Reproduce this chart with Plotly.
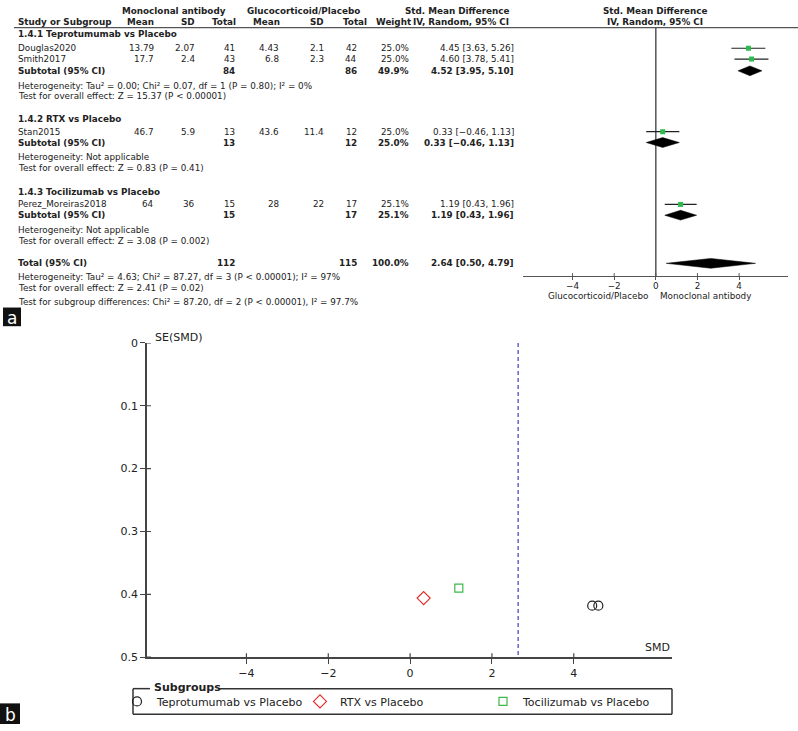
import plotly.graph_objects as go

W, H = 798, 731
FONT = "DejaVu Sans"

# ---------------- data ----------------
studies = ["Douglas2020", "Smith2017", "Stan2015", "Perez_Moreiras2018"]
study_group = [0, 0, 1, 2]
mono_mean = ["13.79", "17.7", "46.7", "64"]
mono_sd = ["2.07", "2.4", "5.9", "36"]
mono_n = [41, 43, 13, 15]
gc_mean = ["4.43", "6.8", "43.6", "28"]
gc_sd = ["2.1", "2.3", "11.4", "22"]
gc_n = [42, 44, 12, 17]
weight = ["25.0%", "25.0%", "25.0%", "25.1%"]
smd = [4.45, 4.60, 0.33, 1.19]
smd_lo = [3.63, 3.78, -0.46, 0.43]
smd_hi = [5.26, 5.41, 1.13, 1.96]
se_smd = [0.418, 0.418, 0.406, 0.390]

group_titles = ["1.4.1 Teprotumumab vs Placebo", "1.4.2 RTX vs Placebo", "1.4.3 Tocilizumab vs Placebo"]
group_names = ["Teprotumumab vs Placebo", "RTX vs Placebo", "Tocilizumab vs Placebo"]
sub_n_mono = [84, 13, 15]
sub_n_gc = [86, 12, 17]
sub_weight = ["49.9%", "25.0%", "25.1%"]
sub_smd = [4.52, 0.33, 1.19]
sub_lo = [3.95, -0.46, 0.43]
sub_hi = [5.10, 1.13, 1.96]
sub_het = ["Heterogeneity: Tau² = 0.00; Chi² = 0.07, df = 1 (P = 0.80); I² = 0%",
           "Heterogeneity: Not applicable",
           "Heterogeneity: Not applicable"]
sub_test = ["Test for overall effect: Z = 15.37 (P < 0.00001)",
            "Test for overall effect: Z = 0.83 (P = 0.41)",
            "Test for overall effect: Z = 3.08 (P = 0.002)"]

total_n_mono, total_n_gc, total_weight = 112, 115, "100.0%"
total_smd, total_lo, total_hi = 2.64, 0.50, 4.79
total_notes = ["Heterogeneity: Tau² = 4.63; Chi² = 87.27, df = 3 (P < 0.00001); I² = 97%",
               "Test for overall effect: Z = 2.41 (P = 0.02)",
               "Test for subgroup differences: Chi² = 87.20, df = 2 (P < 0.00001), I² = 97.7%"]

forest_ticks = [-4, -2, 0, 2, 4]
funnel_xticks = [-4, -2, 0, 2, 4]
funnel_yticks = [0, 0.1, 0.2, 0.3, 0.4, 0.5]
funnel_yticktext = ["0", "0.1", "0.2", "0.3", "0.4", "0.5"]

# ---------------- layout helpers (pixel rows) ----------------
study_rows = [43, 54, 128, 202]
title_rows = [29, 115, 189]
sub_rows = [66, 139, 213]
het_rows = [81, 154, 228]
test_rows = [92, 165, 239]
total_row = 262
total_note_rows = [276, 287, 301]


def px(x):
    return x / W


def py(y):
    return 1 - y / H


def fmt(v):
    return f"{v:.2f}".replace("-", "−")


def ci(e, l, h):
    return f"{fmt(e)} [{fmt(l)}, {fmt(h)}]"


annotations = []
shapes = []
FS = 8.8


def txt(x, y, s, anchor="left", bold=False, size=FS, color="#222"):
    if bold:
        s = f"<b>{s}</b>"
    annotations.append(dict(x=px(x), y=py(y), xref="paper", yref="paper", text=s,
                            showarrow=False, xanchor=anchor, yanchor="middle",
                            font=dict(family=FONT, size=size, color=color),
                            borderpad=0))


def pline(x0, y0, x1, y1, color="#333", width=1):
    shapes.append(dict(type="line", xref="paper", yref="paper",
                       x0=px(x0), y0=py(y0), x1=px(x1), y1=py(y1),
                       line=dict(color=color, width=width)))


# column right edges
C_MM, C_MSD, C_MN, C_GM, C_GSD, C_GN, C_W, C_CI = 155, 196, 236, 280, 325, 358, 410, 515
LEFT = 17

# header
txt(174, 5, "Monoclonal antibody", "center", True)
txt(303, 5, "Glucocorticoid/Placebo", "center", True)
txt(510, 5, "Std. Mean Difference", "right", True)
txt(655, 5, "Std. Mean Difference", "center", True)
txt(LEFT, 16, "Study or Subgroup", "left", True)
txt(C_MM, 16, "Mean", "right", True)
txt(C_MSD, 16, "SD", "right", True)
txt(237, 16, "Total", "right", True)
txt(281, 16, "Mean", "right", True)
txt(C_GSD, 16, "SD", "right", True)
txt(368, 16, "Total", "right", True)
txt(412, 16, "Weight", "right", True)
txt(510, 16, "IV, Random, 95% CI", "right", True)
txt(655, 16, "IV, Random, 95% CI", "center", True)
pline(14, 22, 798, 22, "#555", 1.2)

for i, s in enumerate(studies):
    y = study_rows[i]
    txt(LEFT, y, s)
    txt(C_MM, y, mono_mean[i], "right")
    txt(C_MSD, y, mono_sd[i], "right")
    txt(C_MN, y, str(mono_n[i]), "right")
    txt(C_GM, y, gc_mean[i], "right")
    txt(C_GSD, y, gc_sd[i], "right")
    txt(C_GN, y, str(gc_n[i]), "right")
    txt(C_W, y, weight[i], "right")
    txt(C_CI, y, ci(smd[i], smd_lo[i], smd_hi[i]), "right")

for g in range(3):
    txt(LEFT, title_rows[g], group_titles[g], "left", True)
    y = sub_rows[g]
    txt(LEFT, y, "Subtotal (95% CI)", "left", True)
    txt(C_MN, y, str(sub_n_mono[g]), "right", True)
    txt(C_GN, y, str(sub_n_gc[g]), "right", True)
    txt(C_W, y, sub_weight[g], "right", True)
    txt(C_CI, y, ci(sub_smd[g], sub_lo[g], sub_hi[g]), "right", True)
    txt(LEFT, het_rows[g], sub_het[g])
    txt(LEFT, test_rows[g], sub_test[g])

txt(LEFT, total_row, "Total (95% CI)", "left", True)
txt(C_MN, total_row, str(total_n_mono), "right", True)
txt(C_GN, total_row, str(total_n_gc), "right", True)
txt(C_W, total_row, total_weight, "right", True)
txt(C_CI, total_row, ci(total_smd, total_lo, total_hi), "right", True)
for t, y in zip(total_notes, total_note_rows):
    txt(LEFT, y, t)

# forest axis caption
txt(649, 295.5, "Glucocorticoid/Placebo", "right", False, FS)
txt(659, 295.5, "Monoclonal antibody", "left", False, FS)

# ---------------- figure ----------------
fig = go.Figure()

# study squares with CI
fig.add_trace(go.Scatter(
    x=smd, y=study_rows, mode="markers", xaxis="x", yaxis="y",
    marker=dict(symbol="square", size=5, color="#2dbb4e", line=dict(width=0)),
    error_x=dict(type="data", symmetric=False,
                 array=[h - e for h, e in zip(smd_hi, smd)],
                 arrayminus=[e - l for e, l in zip(smd, smd_lo)],
                 color="#222", thickness=1.2, width=0),
    showlegend=False, hoverinfo="skip"))

# diamonds
DH = 5
diam_sets = [(sub_smd[g], sub_lo[g], sub_hi[g], sub_rows[g]) for g in range(3)]
diam_sets.append((total_smd, total_lo, total_hi, total_row))
for e, l, h, y in diam_sets:
    fig.add_trace(go.Scatter(
        x=[l, e, h, e, l], y=[y, y - DH, y, y + DH, y], mode="lines",
        xaxis="x", yaxis="y", fill="toself", fillcolor="#000",
        line=dict(color="#000", width=0.5), showlegend=False, hoverinfo="skip"))

# zero line in forest
shapes.append(dict(type="line", xref="x", yref="y", x0=0, x1=0, y0=22, y1=275,
                   line=dict(color="#555", width=1.5), layer="below"))
# forest ticks inside part
for t in forest_ticks:
    shapes.append(dict(type="line", xref="x", yref="paper", x0=t, x1=t,
                       y0=py(275), y1=py(272), line=dict(color="#555", width=1)))

# funnel points
sym = ["circle-open", "diamond-open", "square-open"]
cols = ["#222222", "#e0302d", "#3cb84a"]
sizes = [9, 10, 8]
for g in range(3):
    xs = [smd[i] for i in range(len(studies)) if study_group[i] == g]
    ys = [se_smd[i] for i in range(len(studies)) if study_group[i] == g]
    fig.add_trace(go.Scatter(
        x=xs, y=ys, mode="markers", xaxis="x2", yaxis="y2", name=group_names[g],
        marker=dict(symbol=sym[g], size=sizes[g], color=cols[g], line=dict(width=1.2, color=cols[g])),
        showlegend=True, hoverinfo="skip"))

# pooled estimate dashed line
shapes.append(dict(type="line", xref="x2", yref="y2", x0=total_smd, x1=total_smd, y0=0, y1=0.5,
                   line=dict(color="#3b3bc8", width=1.2, dash="4px,3px")))
# funnel crossing ticks (inside parts)
for t in funnel_xticks:
    shapes.append(dict(type="line", xref="x2", yref="paper", x0=t, x1=t,
                       y0=py(663), y1=py(659), line=dict(color="#444", width=1.2)))
for t in funnel_yticks:
    shapes.append(dict(type="line", xref="paper", yref="y2", x0=px(147), x1=px(151),
                       y0=t, y1=t, line=dict(color="#444", width=1.2)))

annotations.append(dict(x=px(153), y=py(337), xref="paper", yref="paper", text="SE(SMD)",
                        showarrow=False, xanchor="left", yanchor="middle",
                        font=dict(family=FONT, size=11, color="#222")))
annotations.append(dict(x=px(672), y=py(653), xref="paper", yref="paper", text="SMD",
                        showarrow=False, xanchor="right", yanchor="middle",
                        font=dict(family=FONT, size=11, color="#222")))

# legend frame with title gap
LC = "#333"
pline(133, 695, 150, 695, LC, 1.5)
pline(218, 695, 672, 695, LC, 1.5)
pline(133, 695, 133, 721, LC, 1.5)
pline(133, 721, 672, 721, LC, 1.5)
pline(672, 695, 672, 721, LC, 1.5)
txt(153, 694, "Subgroups", "left", True, 11)

# panel labels
for (x0, y0, x1, y1, lab) in [(3, 307, 21, 326, "a"), (0, 710, 20, 731, "b")]:
    shapes.append(dict(type="rect", xref="paper", yref="paper", x0=px(x0), x1=px(x1),
                       y0=py(y1), y1=py(y0), fillcolor="#111", line=dict(width=0)))
    annotations.append(dict(x=px((x0 + x1) / 2), y=py((y0 + y1) / 2 + 1), xref="paper", yref="paper",
                            text=lab, showarrow=False, xanchor="center", yanchor="middle",
                            font=dict(family=FONT, size=17, color="white")))

fig.update_layout(
    width=W, height=H, margin=dict(l=0, r=0, t=0, b=0), autosize=False,
    paper_bgcolor="white", plot_bgcolor="rgba(0,0,0,0)",
    font=dict(family=FONT, size=11, color="#222"),
    xaxis=dict(domain=[px(523), px(788)], range=[-6.38, 6.35], anchor="y",
               showline=True, linecolor="#555", linewidth=1.2, ticks="outside", ticklen=3,
               tickcolor="#555", tickvals=forest_ticks, tickfont=dict(size=FS, family=FONT),
               ticklabelstandoff=-2,
               showgrid=False, zeroline=False, fixedrange=True),
    yaxis=dict(domain=[py(275), 1], range=[275, 0], anchor="x", visible=False,
               showgrid=False, zeroline=False, fixedrange=True),
    xaxis2=dict(domain=[px(147), px(672)], range=[-6.43, 6.4], anchor="y2",
                showline=True, linecolor="#444", linewidth=1.5, ticks="outside", ticklen=5,
                tickcolor="#444", tickwidth=1.2, tickvals=funnel_xticks, tickfont=dict(size=11),
                showgrid=False, zeroline=False),
    yaxis2=dict(domain=[py(663), py(343)], range=[0.5, 0], anchor="x2",
                showline=True, linecolor="#444", linewidth=1.5, ticks="outside", ticklen=5,
                tickcolor="#444", tickwidth=1.2, tickvals=funnel_yticks, ticktext=funnel_yticktext,
                tickfont=dict(size=11), showgrid=False, zeroline=False),
    legend=dict(orientation="h", x=px(117), y=py(708), xanchor="left", yanchor="middle",
                font=dict(family=FONT, size=11, color="#222"), bgcolor="rgba(0,0,0,0)",
                borderwidth=0, entrywidth=138, entrywidthmode="pixels",
                itemclick=False, itemdoubleclick=False),
    annotations=annotations, shapes=shapes,
)

fig.write_html("out.html", config={"responsive": False, "displayModeBar": False},
               post_script="document.body.style.margin='0px';document.body.style.overflow='hidden';")
